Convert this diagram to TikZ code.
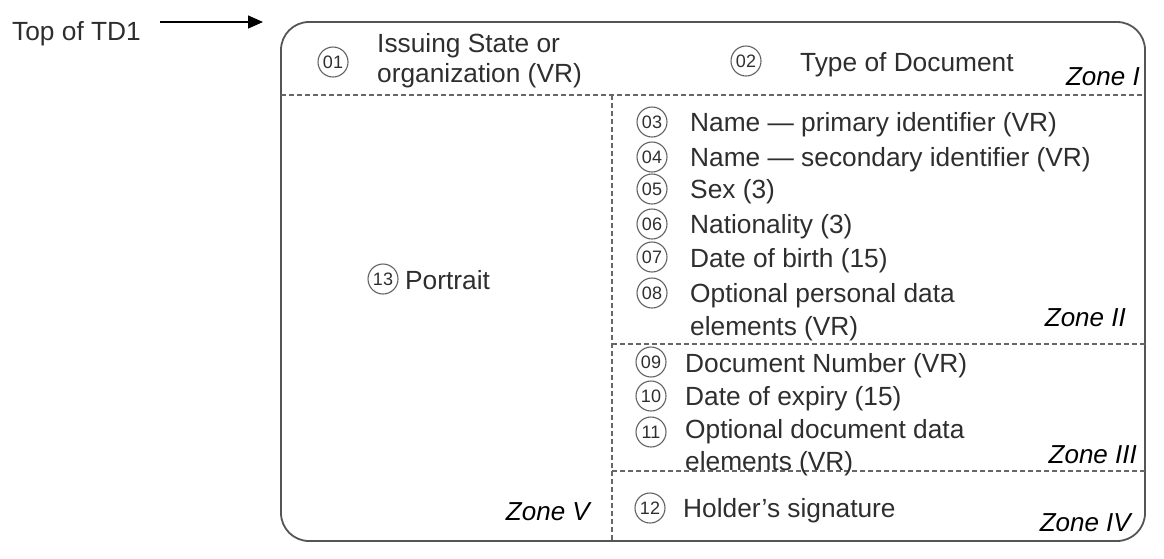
\documentclass[tikz,border=0pt]{standalone}
\usepackage{fontspec}
\setmainfont{Liberation Sans}
\usetikzlibrary{arrows.meta}
\definecolor{txt}{HTML}{2E2E2E}
\definecolor{frame}{HTML}{555555}
\definecolor{dash}{HTML}{666666}
\tikzset{
  lbl/.style={anchor=base west, inner sep=0pt, text=txt, font=\fontsize{26.3}{28}\selectfont},
  zone/.style={anchor=base east, inner sep=0pt, text=black, font=\fontsize{26}{28}\selectfont\itshape},
  num/.style={circle, draw=txt!75, line width=1.1pt, minimum size=30pt, inner sep=0pt, text=txt, font=\fontsize{18}{18}\selectfont},
  card/.style={draw=frame, line width=1.8pt, rounded corners=28pt},
  sep/.style={draw=dash, line width=1.2pt, dash pattern=on 5pt off 3pt}
}
\begin{document}
\begin{tikzpicture}[x=1pt,y=-1pt]
\useasboundingbox (0,0) rectangle (1164,558);
% card
\draw[card] (281,22) rectangle (1145,541);
\coordinate (cl) at (281,95);
\coordinate (cr) at (1145,95);
\coordinate (vt) at (612,95);
\coordinate (vb) at (612,541);
\coordinate (m2l) at (612,344);
\coordinate (m2r) at (1145,344);
\coordinate (m3l) at (612,471);
\coordinate (m3r) at (1145,471);
\draw[sep] (cl) -- (cr);
\draw[sep] (vt) -- (vb);
\draw[sep] (m2l) -- (m2r);
\draw[sep] (m3l) -- (m3r);
% top label and arrow
\node[lbl] (top) at (12,40) {Top of TD1};
\coordinate (as) at (160,22);
\coordinate (ae) at (263,22);
\draw[line width=1.3pt, -{Triangle[length=15pt,width=13pt]}] (as) -- (ae);
% zone I
\node[num] (n01) at (333,62) {01};
\node[lbl] (t01a) at (377,52) {Issuing State or};
\node[lbl] (t01b) at (377,82) {organization (VR)};
\node[num] (n02) at (746,61) {02};
\node[lbl] (t02) at (800,71) {Type of Document};
\node[zone] (z1) at (1140,85) {Zone I};
% zone II
\node[num] (n03) at (652,122) {03};
\node[lbl] (t03) at (690,131) {Name — primary identifier (VR)};
\node[num] (n04) at (652,157) {04};
\node[lbl] (t04) at (690,166) {Name — secondary identifier (VR)};
\node[num] (n05) at (652,189) {05};
\node[lbl] (t05) at (690,198) {Sex (3)};
\node[num] (n06) at (652,224) {06};
\node[lbl] (t06) at (690,233) {Nationality (3)};
\node[num] (n07) at (652,257) {07};
\node[lbl] (t07) at (690,267) {Date of birth (15)};
\node[num] (n08) at (652,293) {08};
\node[lbl] (t08a) at (690,302) {Optional personal data};
\node[lbl] (t08b) at (690,335) {elements (VR)};
\node[zone] (z2) at (1126,326) {Zone II};
% zone III
\node[num] (n09) at (651,362) {09};
\node[lbl] (t09) at (685,372) {Document Number (VR)};
\node[num] (n10) at (651,396) {10};
\node[lbl] (t10) at (685,405) {Date of expiry (15)};
\node[num] (n11) at (651,432) {11};
\node[lbl] (t11a) at (685,438) {Optional document data};
\node[lbl] (t11b) at (685,470) {elements (VR)};
\node[zone] (z3) at (1137,463) {Zone III};
% zone IV
\node[num] (n12) at (650,508) {12};
\node[lbl] (t12) at (683,517) {Holder’s signature};
\node[zone] (z4) at (1131,531) {Zone IV};
% zone V
\node[num] (n13) at (383,279) {13};
\node[lbl] (t13) at (405,289) {Portrait};
\node[zone] (z5) at (590,520) {Zone V};
\end{tikzpicture}
\end{document}
